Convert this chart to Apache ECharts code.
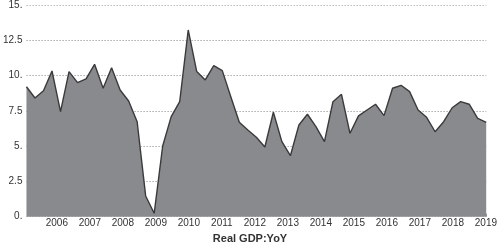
<!DOCTYPE html>
<html><head><meta charset="utf-8">
<script src="https://cdn.jsdelivr.net/npm/echarts@6/dist/echarts.min.js"></script>
<style>html,body{margin:0;padding:0;background:#fff}#c{width:500px;height:244px}</style>
</head><body><div id="c"></div>
<script>
var quarters = ['2005Q3','2005Q4','2006Q1','2006Q2','2006Q3','2006Q4','2007Q1','2007Q2','2007Q3','2007Q4',
'2008Q1','2008Q2','2008Q3','2008Q4','2009Q1','2009Q2','2009Q3','2009Q4','2010Q1','2010Q2',
'2010Q3','2010Q4','2011Q1','2011Q2','2011Q3','2011Q4','2012Q1','2012Q2','2012Q3','2012Q4',
'2013Q1','2013Q2','2013Q3','2013Q4','2014Q1','2014Q2','2014Q3','2014Q4','2015Q1','2015Q2',
'2015Q3','2015Q4','2016Q1','2016Q2','2016Q3','2016Q4','2017Q1','2017Q2','2017Q3','2017Q4',
'2018Q1','2018Q2','2018Q3','2018Q4','2019Q1'];
var gdpYoY = [9.21,8.41,8.93,10.33,7.44,10.28,9.50,9.76,10.80,9.10,
10.56,8.98,8.20,6.73,1.47,0.24,5.01,7.09,8.15,13.23,
10.28,9.69,10.70,10.35,8.50,6.69,6.14,5.63,4.94,7.40,
5.32,4.32,6.50,7.26,6.38,5.32,8.15,8.67,5.91,7.14,
7.56,7.97,7.16,9.10,9.31,8.86,7.56,7.04,6.02,6.73,
7.72,8.15,7.97,6.97,6.69];
var yearTicks = [2006,2007,2008,2009,2010,2011,2012,2013,2014,2015,2016,2017,2018,2019];
var yTicks = [0,2.5,5,7.5,10,12.5,15];
var axisTitle = 'Real GDP:YoY';

var chart = echarts.init(document.getElementById('c'), null, {renderer:'canvas'});
var font = 'Liberation Sans, Arial, sans-serif';
chart.setOption({
  animation:false,
  backgroundColor:'#fff',
  title:{text:axisTitle,left:'center',top:233,padding:0,
    textStyle:{fontFamily:font,fontSize:11,fontWeight:'bold',color:'#333'}},
  grid:{left:22.7,right:9.7,top:5,bottom:27.3,containLabel:false},
  xAxis:[{
    type:'category',data:quarters,boundaryGap:false,show:false
  },{
    type:'value',min:2005.08,max:2019.01,position:'bottom',
    axisLine:{show:false},
    axisTick:{show:true,inside:true,length:3,customValues:yearTicks,lineStyle:{color:'#777',width:0.8}},
    axisLabel:{customValues:yearTicks,formatter:function(v){return String(v);},margin:2,
      fontFamily:font,fontSize:10,color:'#333'},
    splitLine:{show:false}
  }],
  yAxis:{
    type:'value',min:0,max:15,interval:2.5,
    axisLine:{show:false},axisTick:{show:false},
    axisLabel:{margin:4,fontFamily:font,fontSize:10,color:'#333',
      formatter:function(v){return (Math.round(v)===v)? v+'.' : String(v);}},
    splitLine:{show:true,lineStyle:{type:[1.5,1.5],color:'#bdbdbd',width:1}}
  },
  series:[{
    type:'line',xAxisIndex:0,yAxisIndex:0,data:gdpYoY,symbol:'none',z:3,
    lineStyle:{color:'#3a3a3a',width:1.4},
    areaStyle:{color:'#898a8e',opacity:1,origin:'start'},
    markLine:{silent:true,symbol:'none',z:2,label:{show:false},
      lineStyle:{type:[1.5,1.5],color:'rgba(175,175,178,0.6)',width:1},
      data:yTicks.slice(1,-1).map(function(v){return {yAxis:v};})}
  }]
});
</script></body></html>
